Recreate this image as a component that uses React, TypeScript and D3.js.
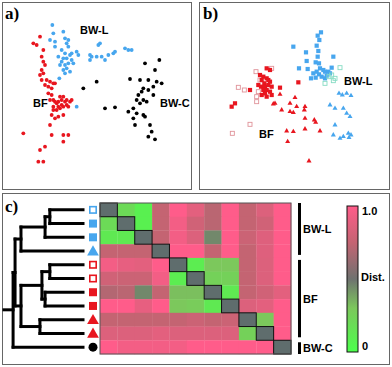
import React from 'react';
import * as d3 from 'd3';

// ---- panel a: score plot (raw read-off units) ----
const aBlue = [
  [157, 75], [190, 95], [160, 100], [150, 120], [165, 125], [165, 140], [185, 150], [195, 115],
  [200, 130], [205, 120], [205, 140], [195, 160], [175, 170], [190, 175], [200, 175], [210, 165],
  [215, 180], [220, 190], [205, 190], [195, 195], [190, 210], [200, 205], [185, 185], [180, 195],
  [230, 155], [235, 165], [215, 160], [210, 215], [195, 220], [178, 235], [230, 320],
  [270, 180], [275, 170], [290, 170], [295, 135], [300, 130], [305, 170], [315, 180], [325, 165],
  [340, 160], [345, 155], [375, 145], [385, 150], [395, 150], [270, 165],
];
const aRed = [
  [120, 110], [100, 130], [110, 135], [130, 150], [125, 170], [130, 185], [135, 195], [125, 210],
  [130, 220], [120, 225], [125, 240], [140, 240], [150, 245], [160, 250], [145, 260], [155, 265],
  [165, 250], [135, 255], [145, 280], [155, 285], [150, 300], [160, 300], [170, 310], [160, 320],
  [175, 320], [185, 300], [190, 290], [185, 315], [195, 305], [200, 300], [210, 305], [215, 300],
  [205, 320], [180, 325], [170, 330], [160, 330], [180, 290], [165, 305], [175, 305], [190, 320],
  [200, 315], [155, 345], [175, 350], [150, 375], [165, 355], [190, 345], [70, 400], [155, 405],
  [190, 405], [205, 405], [190, 425], [135, 440], [120, 450], [115, 485], [130, 485],
];
const aBlack = [
  [435, 190], [478, 180], [465, 210], [390, 237], [420, 240], [445, 240], [470, 245], [485, 250],
  [290, 245], [250, 265], [460, 260], [430, 265], [425, 275], [415, 285], [445, 270], [460, 285],
  [410, 300], [430, 300], [440, 305], [420, 310], [400, 325], [385, 335], [410, 340], [430, 345],
  [435, 350], [400, 355], [315, 325], [345, 322], [405, 375], [450, 375], [455, 395], [445, 410],
  [465, 418],
];

// ---- panel b: score plot ----
const bBlueSq = [
  [288, 22], [278, 32], [283, 45], [275, 62], [280, 78], [205, 65], [243, 82], [278, 95], [325, 95],
  [245, 108], [248, 132], [222, 130], [272, 112], [282, 115], [258, 160], [275, 140], [285, 130],
  [295, 135], [300, 140], [310, 140], [320, 128], [272, 158], [290, 155], [300, 160], [265, 145],
  [282, 148], [305, 152], [315, 145],
];
const bCyanOpen = [[345, 128], [320, 150], [330, 160], [300, 175], [325, 167], [312, 155]];
const bBlueTri = [
  [342, 205], [352, 210], [365, 205], [378, 212], [315, 240], [330, 250], [355, 250], [365, 265],
  [375, 275], [330, 300], [345, 340], [355, 335], [370, 325], [372, 338], [378, 330], [325, 330],
];
const bRedSq = [
  [125, 130], [135, 135], [105, 150], [115, 155], [125, 160], [110, 165], [130, 165], [118, 175],
  [100, 180], [108, 185], [120, 185], [130, 180], [140, 185], [115, 195], [125, 195], [135, 200],
  [120, 205], [140, 210], [110, 210], [125, 215], [165, 188], [220, 172], [75, 195], [30, 235],
  [20, 245], [135, 170],
];
const bRedOpen = [
  [93, 140], [140, 130], [40, 187], [58, 195], [100, 200], [95, 215], [95, 230], [75, 298],
  [22, 325], [105, 165],
];
const bRedTri = [
  [165, 208], [150, 235], [145, 237], [210, 218], [195, 235], [215, 245], [240, 245], [238, 255],
  [170, 255], [195, 260], [205, 263], [240, 280], [268, 285], [272, 292], [185, 318], [205, 320],
  [240, 312], [285, 318], [188, 350], [252, 408],
];

// ---- panel c: distance matrix + dendrogram ----
const leafShapes = ['sqOpen', 'sq', 'sq', 'tri', 'sqOpen', 'sqOpen', 'sq', 'sq', 'tri', 'tri', 'circle'];
const leafColors = ['blue', 'blue', 'blue', 'blue', 'red', 'red', 'red', 'red', 'red', 'red', 'black'];

// -1 = diagonal
const dist = [
  [-1, 0.2, 0.08, 0.75, 1.0, 0.88, 0.72, 1.0, 0.75, 0.85, 1.0],
  [0.2, -1, 0.08, 0.75, 0.95, 0.8, 0.72, 1.0, 0.75, 0.8, 1.0],
  [0.12, 0.12, -1, 0.75, 0.95, 0.85, 0.45, 1.0, 0.78, 0.86, 1.0],
  [0.75, 0.75, 0.75, -1, 1.0, 1.0, 0.75, 1.0, 0.75, 0.86, 1.0],
  [0.95, 0.9, 0.88, 1.0, -1, 0.1, 0.3, 0.3, 0.75, 0.85, 1.0],
  [0.8, 0.78, 0.78, 0.95, 0.1, -1, 0.25, 0.25, 0.75, 0.85, 1.0],
  [0.7, 0.72, 0.45, 0.75, 0.32, 0.32, -1, 0.12, 0.75, 0.8, 0.88],
  [1.0, 1.0, 0.9, 1.0, 0.3, 0.28, 0.12, -1, 0.85, 0.88, 1.0],
  [0.75, 0.75, 0.75, 0.75, 0.75, 0.78, 0.75, 0.78, -1, 0.3, 1.0],
  [0.85, 0.85, 0.85, 0.88, 0.85, 0.85, 0.85, 0.85, 0.25, -1, 1.0],
  [1.0, 0.95, 0.95, 0.95, 0.95, 1.0, 1.0, 1.0, 1.0, 1.0, -1],
];

// merges: [child a, child b, height]; leaves are 0..10, new nodes 11..
const merges = [
  [0, 1, 0.42], [11, 2, 0.48], [12, 3, 0.785], [4, 5, 0.42], [6, 7, 0.48],
  [14, 15, 0.52], [8, 9, 0.545], [16, 17, 0.785], [13, 18, 0.86], [19, 10, 0.885],
];

const groups = [
  { name: 'BW-L', from: 0, to: 3 },
  { name: 'BF', from: 4, to: 9 },
  { name: 'BW-C', from: 10, to: 10 },
];

const colorTicks = ['0', 'Dist.', '1.0'];

const BLUE = '#47a6ee';
const RED = '#e8161f';
const PINK = '#e0939a';
const CYAN = '#86dcc4';
const sans = 'Liberation Sans, Arial, sans-serif';
const serif = 'Liberation Serif, Times New Roman, serif';

const col = (c) => (c === 'blue' ? BLUE : c === 'red' ? RED : '#000');

const heat = d3
  .scaleLinear()
  .domain([0, 0.3, 0.5, 0.75, 1])
  .range(['#4cff4c', '#7cc85c', '#6f7270', '#c46472', '#ff5c8a'])
  .interpolate(d3.interpolateRgb);

const App = () => {
  // scatter scales
  const xa = d3.scaleLinear().domain([0, 588]).range([0, 196]);
  const ya = d3.scaleLinear().domain([0, 570]).range([0, 190]);
  const xb = d3.scaleLinear().domain([0, 450]).range([225, 375]);
  const yb = d3.scaleLinear().domain([0, 435]).range([25, 170]);

  // heatmap scales
  const idx = d3.range(11);
  const xh = d3.scaleBand().domain(idx).range([100, 291]);
  const yh = d3.scaleBand().domain(idx).range([203, 354]);
  const bw = yh.bandwidth();

  // dendrogram
  const xd = d3.scaleLinear().domain([0, 1]).range([83, 4]);
  const nodes = idx.map((i) => ({ x: xd(0), y: yh(i) + bw / 2 }));
  const segs = [];
  merges.forEach(([a, b, h]) => {
    const x = xd(h);
    const na = nodes[a];
    const nb = nodes[b];
    segs.push([x, na.y, na.x, na.y]);
    segs.push([x, nb.y, nb.x, nb.y]);
    segs.push([x, na.y, x, nb.y]);
    nodes.push({ x, y: (na.y + nb.y) / 2 });
  });
  const root = nodes[nodes.length - 1];
  segs.push([xd(1), root.y, root.x, root.y]);

  const tri = d3.symbol(d3.symbolTriangle);

  const marker = (shape, color, x, y, key) => {
    const c = col(color);
    if (shape === 'sqOpen')
      return <rect key={key} x={x - 3.2} y={y - 3.2} width={6.4} height={6.4} fill="#fff" stroke={c} strokeWidth={1.6} />;
    if (shape === 'sq') return <rect key={key} x={x - 4} y={y - 4} width={8} height={8} fill={c} />;
    if (shape === 'tri') return <path key={key} d={tri.size(60)()} transform={`translate(${x},${y + 1})`} fill={c} />;
    return <circle key={key} cx={x} cy={y} r={4.5} fill={c} />;
  };

  const stops = d3.range(0, 1.001, 0.05);

  return (
    <svg width={392} height={367} style={{ position: 'absolute', left: 0, top: 0, background: '#fff' }}>
      <defs>
        <linearGradient id="cb" x1="0" y1="1" x2="0" y2="0">
          {stops.map((s) => (
            <stop key={s} offset={s} stopColor={heat(s)} />
          ))}
        </linearGradient>
      </defs>

      {/* panel frames */}
      <rect x={2.5} y={2.5} width={189} height={187} fill="none" stroke="#666" />
      <rect x={199.5} y={2.5} width={190} height={187} fill="none" stroke="#666" />
      <rect x={2.5} y={193.5} width={387} height={171} fill="none" stroke="#666" />

      <text x={5} y={19} fontFamily={serif} fontWeight="bold" fontSize={17}>a)</text>
      <text x={203} y={19} fontFamily={serif} fontWeight="bold" fontSize={17}>b)</text>
      <text x={5} y={212} fontFamily={serif} fontWeight="bold" fontSize={17}>c)</text>

      {/* panel a */}
      {aBlue.map((d, i) => <circle key={'ab' + i} cx={xa(d[0])} cy={ya(d[1])} r={1.9} fill={BLUE} />)}
      {aRed.map((d, i) => <circle key={'ar' + i} cx={xa(d[0])} cy={ya(d[1])} r={1.9} fill={RED} />)}
      {aBlack.map((d, i) => <circle key={'ak' + i} cx={xa(d[0])} cy={ya(d[1])} r={1.9} fill="#000" />)}
      <g fontFamily={sans} fontWeight="bold" fontSize={11}>
        <text x={80} y={34}>BW-L</text>
        <text x={33} y={107}>BF</text>
        <text x={160} y={107}>BW-C</text>
      </g>

      {/* panel b */}
      {bRedOpen.map((d, i) => (
        <rect key={'bo' + i} x={xb(d[0]) - 2} y={yb(d[1]) - 2} width={4} height={4} fill="#fff" stroke={PINK} strokeWidth={0.9} />
      ))}
      {bRedSq.map((d, i) => (
        <rect key={'bs' + i} x={xb(d[0]) - 2.1} y={yb(d[1]) - 2.1} width={4.2} height={4.2} fill={RED} />
      ))}
      {bRedTri.map((d, i) => (
        <path key={'bt' + i} d={tri.size(11)()} transform={`translate(${xb(d[0])},${yb(d[1])})`} fill={RED} />
      ))}
      {bBlueSq.map((d, i) => (
        <rect key={'bb' + i} x={xb(d[0]) - 2.1} y={yb(d[1]) - 2.1} width={4.2} height={4.2} fill={BLUE} />
      ))}
      {bCyanOpen.map((d, i) => (
        <rect key={'bc' + i} x={xb(d[0]) - 2} y={yb(d[1]) - 2} width={4} height={4} fill="none" stroke={CYAN} strokeWidth={0.9} />
      ))}
      {bBlueTri.map((d, i) => (
        <path key={'bu' + i} d={tri.size(11)()} transform={`translate(${xb(d[0])},${yb(d[1])})`} fill={BLUE} />
      ))}
      <g fontFamily={sans} fontWeight="bold" fontSize={11}>
        <text x={344} y={85}>BW-L</text>
        <text x={259} y={138}>BF</text>
      </g>

      {/* panel c: heatmap */}
      {dist.map((row, r) =>
        row.map((v, c) => (
          <rect key={`h${r}-${c}`} x={xh(c)} y={yh(r)} width={xh.bandwidth() + 0.3} height={bw + 0.3} fill={v < 0 ? '#5f6d6d' : heat(v)} />
        ))
      )}
      {idx.map((i) => (
        <rect key={'dg' + i} x={xh(i)} y={yh(i)} width={xh.bandwidth()} height={bw} fill="none" stroke="#111" strokeWidth={1} />
      ))}
      <rect x={100} y={203} width={191} height={151} fill="none" stroke="#555" strokeWidth={1} />

      {/* dendrogram */}
      <g stroke="#000" strokeWidth={3} strokeLinecap="square">
        {segs.map((s, i) => <line key={'d' + i} x1={s[0]} y1={s[1]} x2={s[2]} y2={s[3]} />)}
      </g>
      {idx.map((i) => marker(leafShapes[i], leafColors[i], 93, yh(i) + bw / 2, 'm' + i))}

      {/* group brackets */}
      {groups.map((g) => {
        const y1 = yh(g.from) + (g.from > 0 ? 2 : 0);
        const y2 = yh(g.to) + bw - (g.to < 10 ? 3 : 0);
        return <rect key={g.name} x={298} y={y1} width={3} height={y2 - y1} fill="#000" />;
      })}
      <g fontFamily={sans} fontWeight="bold" fontSize={11}>
        <text x={303} y={233}>BW-L</text>
        <text x={303} y={303}>BF</text>
        <text x={303} y={352}>BW-C</text>
      </g>

      {/* colour bar */}
      <rect x={347} y={206} width={11} height={146} fill="url(#cb)" stroke="#111" strokeWidth={1} />
      <g fontFamily={sans} fontWeight="bold" fontSize={11}>
        <text x={362} y={350}>{colorTicks[0]}</text>
        <text x={361} y={281}>{colorTicks[1]}</text>
        <text x={362} y={215}>{colorTicks[2]}</text>
      </g>
    </svg>
  );
};

export default App;
